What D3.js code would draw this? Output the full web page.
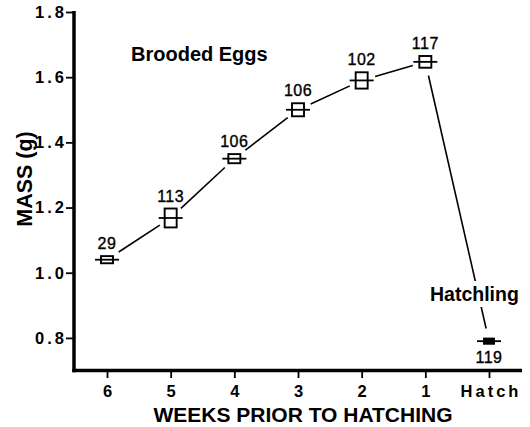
<!DOCTYPE html>
<html>
<head>
<meta charset="utf-8">
<script src="https://cdn.jsdelivr.net/npm/d3@7"></script>
<style>
  html, body { margin: 0; padding: 0; background: #fff; }
  svg { display: block; font-family: "Liberation Sans", Arial, Helvetica, sans-serif; }
</style>
</head>
<body>
<svg id="chart" width="530" height="427"></svg>
<script>
// ---- data ----
const categories = ["6", "5", "4", "3", "2", "1", "Hatch"];
const massValues = [1.04, 1.168, 1.35, 1.50, 1.59, 1.647, 0.79];
const massSE = [0.011, 0.029, 0.014, 0.020, 0.025, 0.018, 0.008];
const sampleSizes = [29, 113, 106, 106, 102, 117, 119];
const groups = ["egg", "egg", "egg", "egg", "egg", "egg", "hatchling"];
const yTickValues = [0.8, 1.0, 1.2, 1.4, 1.6, 1.8];

const svg = d3.select("#chart");
const FONT = '"Liberation Sans", Arial, Helvetica, sans-serif';

const x = d3.scalePoint().domain(categories).range([107, 489]);
const y = d3.scaleLinear().domain([0.7, 1.8]).range([370.5, 12]);

const axisX0 = 74, axisX1 = 522;

// ---- axes ----
const yAxis = svg.append("g")
  .attr("transform", `translate(${axisX0},0)`)
  .call(d3.axisLeft(y).tickValues(yTickValues).tickFormat(d3.format(".1f")).tickSize(8).tickPadding(-1));
yAxis.select(".domain").remove();
yAxis.selectAll(".tick line").attr("stroke", "#000").attr("stroke-width", 1.8);
yAxis.selectAll(".tick text")
  .attr("fill", "#000")
  .style("font-family", FONT).style("font-size", "16.5px").style("font-weight", "bold")
  .style("letter-spacing", "3px");

const xAxis = svg.append("g")
  .attr("transform", `translate(0,${y(0.7) + 1.5})`)
  .call(d3.axisBottom(x).tickSize(6).tickPadding(7));
xAxis.select(".domain").remove();
xAxis.selectAll(".tick line").attr("stroke", "#000").attr("stroke-width", 1.8);
xAxis.selectAll(".tick text")
  .attr("fill", "#000")
  .attr("dx", d => d === "Hatch" ? "1.5px" : "0px")
  .style("font-family", FONT).style("font-size", "16.5px").style("font-weight", "bold")
  .style("letter-spacing", d => d === "Hatch" ? "3px" : "0px");

// thick axis lines
svg.append("line")
  .attr("x1", axisX0).attr("x2", axisX0)
  .attr("y1", y(1.8) - 1).attr("y2", y(0.7) + 1.8)
  .attr("stroke", "#000").attr("stroke-width", 3.5);
svg.append("line")
  .attr("x1", axisX0 - 1.7).attr("x2", axisX1)
  .attr("y1", y(0.7)).attr("y2", y(0.7))
  .attr("stroke", "#000").attr("stroke-width", 3.5);

// ---- axis titles ----
svg.append("text")
  .attr("x", 303).attr("y", 422)
  .attr("text-anchor", "middle")
  .style("font-size", "21px").style("font-weight", "bold")
  .text("WEEKS PRIOR TO HATCHING");

svg.append("text")
  .attr("transform", "translate(32,179) rotate(-90)")
  .attr("text-anchor", "middle")
  .style("font-size", "21.5px").style("font-weight", "bold")
  .text("MASS (g)");

// ---- data marks ----
const pts = categories.map((c, i) => ({
  cat: c, v: massValues[i], se: massSE[i], n: sampleSizes[i], g: groups[i],
  px: x(c), py: y(massValues[i])
}));

// connecting segments with gaps near the markers
const gapStart = 14, gapEnd = 13;
const segs = d3.pairs(pts).map(([a, b]) => {
  const dx = b.px - a.px, dy = b.py - a.py, L = Math.hypot(dx, dy);
  return {
    x1: a.px + dx / L * gapStart, y1: a.py + dy / L * gapStart,
    x2: b.px - dx / L * gapEnd, y2: b.py - dy / L * gapEnd
  };
});
svg.append("g").selectAll("line").data(segs).join("line")
  .attr("x1", d => d.x1).attr("y1", d => d.y1)
  .attr("x2", d => d.x2).attr("y2", d => d.y2)
  .attr("stroke", "#000").attr("stroke-width", 1.6);

// markers
const mk = svg.append("g").selectAll("g").data(pts).join("g");
mk.append("line")
  .attr("x1", d => d.px - 12).attr("x2", d => d.px + 12)
  .attr("y1", d => d.py).attr("y2", d => d.py)
  .attr("stroke", "#000").attr("stroke-width", 1.8);
mk.append("rect")
  .attr("x", d => d.px - (d.g === "egg" ? 6 : 5))
  .attr("width", d => d.g === "egg" ? 12 : 10)
  .attr("y", d => y(d.v + d.se))
  .attr("height", d => y(d.v - d.se) - y(d.v + d.se))
  .attr("fill", d => d.g === "egg" ? "none" : "#000")
  .attr("stroke", "#000").attr("stroke-width", 1.9);

// sample size labels
svg.append("g").selectAll("text").data(pts).join("text")
  .attr("x", d => d.px)
  .attr("y", d => d.g === "egg" ? y(d.v + d.se) - 7 : y(d.v - d.se) + 19)
  .attr("text-anchor", "middle")
  .attr("stroke", "#000").attr("stroke-width", 0.35)
  .style("font-size", "16px")
  .style("letter-spacing", "0.5px")
  .text(d => d.n);

// annotation labels
svg.append("text")
  .attr("x", 131).attr("y", 60.5)
  .style("font-size", "20px").style("font-weight", "bold")
  .text("Brooded Eggs");

const hl = svg.append("g");
const hlBg = hl.append("rect").attr("fill", "#fff");
const hlText = hl.append("text")
  .attr("x", 430).attr("y", 301)
  .style("font-size", "19.5px").style("font-weight", "bold")
  .text("Hatchling");
const bb = hlText.node().getBBox();
hlBg.attr("x", bb.x - 2).attr("y", bb.y - 2).attr("width", bb.width + 4).attr("height", bb.height + 4);
</script>
</body>
</html>
